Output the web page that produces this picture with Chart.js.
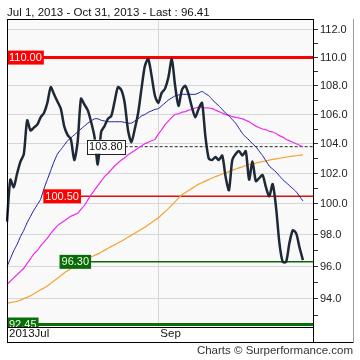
<!DOCTYPE html>
<html><head><meta charset="utf-8">
<script src="https://cdn.jsdelivr.net/npm/chart.js@4/dist/chart.umd.min.js"></script>
<style>html,body{margin:0;padding:0;background:#fff;}</style>
</head><body>
<canvas id="c" width="360" height="360"></canvas>
<script>
const titleText = 'Jul 1, 2013 - Oct 31, 2013 - Last : 96.41';
const footerText = 'Charts \u00A9 Surperformance.com';

// trading days Jul 1 2013 .. Nov 5 2013 (weekdays)
const categories = [];
(function(){
  const d = new Date(2013, 6, 1), end = new Date(2013, 10, 5);
  while (d <= end) { const w = d.getDay(); if (w !== 0 && w !== 6) categories.push(d.toISOString().slice(0,10)); d.setDate(d.getDate()+1); }
})();

const closePrice = [98.85,101.6,101.1,102.0,102.8,103.3,105.6,104.9,105.1,105.3,
105.8,106.1,106.8,107.9,107.4,106.9,106.4,105.2,104.6,104.3,
102.9,104.1,107.1,106.7,106.3,105.5,104.5,102.6,104.8,105.2,
105.7,105.9,106.9,107.9,107.7,106.8,104.9,104.1,105.0,106.1,
107.8,109.4,109.9,108.7,107.3,106.8,107.5,107.8,108.6,109.9,
108.0,106.6,107.7,108.0,107.4,106.5,105.8,106.4,106.8,104.5,
103.0,102.9,103.1,102.9,103.2,101.8,100.9,102.9,103.3,103.5,
103.2,103.5,101.6,102.8,101.5,101.7,101.9,101.1,100.5,101.3,
99.8,97.5,96.3,96.3,97.5,98.3,98.1,97.2,96.41];

const maShort = [96.0,96.5,97.0,97.4,97.9,98.3,98.8,99.2,99.6,99.95,
100.3,101.0,101.6,102.2,102.8,103.3,103.6,103.9,104.2,104.4,
104.6,104.8,105.0,105.2,105.4,105.55,105.7,105.7,105.6,105.55,
105.5,105.5,105.5,105.5,105.5,105.45,105.4,105.4,105.55,105.7,
105.9,106.0,106.15,106.25,106.35,106.4,106.6,106.8,107.0,107.15,
107.3,107.35,107.4,107.4,107.4,107.4,107.4,107.5,107.6,107.45,
107.3,107.05,106.8,106.6,106.35,106.1,105.9,105.65,105.4,105.05,
104.7,104.45,104.25,104.0,103.8,103.5,103.2,102.85,102.5,102.3,
102.1,101.85,101.6,101.4,101.2,101.0,100.8,100.5,100.2];

const maMid = [94.9,95.1,95.3,95.5,95.7,95.9,96.2,96.5,96.8,97.0,
97.3,97.55,97.8,98.1,98.35,98.6,98.75,98.9,99.05,99.2,
99.3,99.4,99.65,99.9,100.25,100.6,100.9,101.2,101.5,101.8,
102.0,102.25,102.5,102.7,102.9,103.05,103.25,103.4,103.55,103.7,
103.85,104.0,104.1,104.2,104.3,104.65,104.95,105.3,105.55,105.8,
106.0,106.05,106.15,106.2,106.3,106.35,106.45,106.5,106.5,106.45,
106.45,106.4,106.3,106.2,106.1,106.0,105.95,105.85,105.8,105.75,
105.7,105.6,105.5,105.35,105.2,105.1,105.0,104.95,104.85,104.8,
104.7,104.55,104.45,104.3,104.2,104.1,104.0,103.9,103.8];

const maLong = [93.75,93.78,93.82,93.85,93.93,94.02,94.1,94.2,94.32,94.44,
94.56,94.68,94.8,94.96,95.12,95.28,95.44,95.6,95.74,95.88,
96.02,96.16,96.3,96.4,96.5,96.6,96.7,96.8,96.91,97.03,
97.14,97.26,97.37,97.49,97.6,97.73,97.86,97.99,98.11,98.24,
98.37,98.5,98.65,98.8,98.95,99.1,99.3,99.5,99.7,99.92,
100.15,100.38,100.6,100.74,100.88,101.02,101.16,101.3,101.4,101.5,
101.6,101.7,101.8,101.88,101.97,102.05,102.13,102.22,102.3,102.38,
102.45,102.53,102.6,102.65,102.7,102.75,102.8,102.85,102.9,102.94,
102.98,103.02,103.06,103.1,103.13,103.16,103.19,103.22,103.25];

const levelValues = [110.00, 103.80, 100.50, 96.30, 92.45];
const levelLabels = ['110.00', '103.80', '100.50', '96.30', '92.45'];
const levelStarts = [0, 35, 22, 25, 0];
const levelColors = ['#ff0000', '#222222', '#e01010', '#0a6a0a', '#0a6e0a'];
const levelBoxFill = ['#ff0000', '#ffffff', '#ff0000', '#0a6a0a', '#0a6e0a'];
const levelTextColor = ['#ffffff', '#111111', '#ffffff', '#e8ffe0', '#e8ffe0'];
const levelWidths = [3, 1, 1.5, 1.5, 3];
const levelDash = [[], [3, 2], [], [], []];

const yTickValues = [93,94,95,96,97,98,99,100,101,102,103,104,105,106,107,108,109,110,111,112];
const xTickIndex = [0, 45];
const xTickLabels = ['2013Jul', 'Sep'];

const FONT = '"Liberation Sans", Arial, sans-serif';

const datasets = [
  {data: closePrice, borderColor: '#1e2836', borderWidth: 2.5, tension: 0.25},
  {data: maShort, borderColor: '#1a1aa8', borderWidth: 1, tension: 0.2},
  {data: maMid, borderColor: '#ec2cec', borderWidth: 1.2, tension: 0.2},
  {data: maLong, borderColor: '#f2a531', borderWidth: 1.2, tension: 0.2}
];
levelValues.forEach((v, k) => {
  datasets.push({
    data: categories.map((_, i) => i >= levelStarts[k] ? v : null),
    borderColor: levelColors[k], borderWidth: levelWidths[k], borderDash: levelDash[k], tension: 0
  });
});
datasets.forEach(d => { d.pointRadius = 0; d.fill = false; d.spanGaps = false; });

const bgPlugin = {
  id: 'bg',
  beforeDraw(chart) {
    const {ctx, chartArea: a} = chart;
    ctx.save(); ctx.fillStyle = '#f9f9f9';
    ctx.fillRect(a.left, a.top, a.right - a.left, a.bottom - a.top);
    ctx.restore();
  }
};

const boxPlugin = {
  id: 'boxes',
  afterDatasetsDraw(chart) {
    const {ctx, chartArea: a, scales: {x, y}} = chart;
    ctx.save();
    ctx.beginPath(); ctx.rect(a.left, a.top, a.right - a.left, a.bottom - a.top); ctx.clip();
    ctx.font = '11px ' + FONT;
    ctx.textBaseline = 'middle';
    levelValues.forEach((v, k) => {
      const py = y.getPixelForValue(v);
      const xs = x.getPixelForValue(levelStarts[k]);
      const w = ctx.measureText(levelLabels[k]).width + 4, h = 14;
      const x0 = Math.max(a.left, xs - w);
      ctx.fillStyle = levelBoxFill[k];
      ctx.fillRect(x0, py - h / 2, w, h);
      if (k === 1) { ctx.strokeStyle = '#222'; ctx.lineWidth = 1; ctx.strokeRect(Math.round(x0) + 0.5, Math.round(py - h / 2) + 0.5, Math.round(w), h); }
      ctx.fillStyle = levelTextColor[k];
      ctx.fillText(levelLabels[k], x0 + 2, py + 0.5);
    });
    ctx.restore();
  },
  afterDraw(chart) {
    const {ctx, chartArea: a} = chart;
    ctx.save();
    ctx.strokeStyle = '#000'; ctx.lineWidth = 1;
    ctx.beginPath();
    ctx.moveTo(a.left + 0.5, a.top + 0.5); ctx.lineTo(a.right, a.top + 0.5);
    ctx.moveTo(a.left + 0.5, a.top); ctx.lineTo(a.left + 0.5, 342.5);
    ctx.moveTo(a.left, 342.5); ctx.lineTo(353.5, 342.5);
    ctx.moveTo(a.right + 0.5, a.bottom); ctx.lineTo(a.right + 0.5, 342.5);
    ctx.stroke();
    ctx.strokeStyle = '#9a9a9a';
    ctx.beginPath(); ctx.moveTo(353.5, a.top); ctx.lineTo(353.5, 342.5); ctx.stroke();
    ctx.restore();
  }
};

new Chart(document.getElementById('c'), {
  type: 'line',
  data: {labels: categories, datasets},
  plugins: [bgPlugin, boxPlugin],
  options: {
    responsive: false, animation: false, devicePixelRatio: 1,
    layout: {padding: {left: 7, right: 7, top: 0, bottom: 0}},
    plugins: {
      legend: {display: false}, tooltip: {enabled: false},
      title: {display: true, text: titleText, align: 'start', color: '#111',
        font: {family: FONT, size: 11.5, weight: 'normal', lineHeight: 1}, padding: {top: 7, bottom: 0.5}},
      subtitle: {display: true, text: footerText, position: 'bottom', align: 'end', color: '#333',
        font: {family: FONT, size: 11.5, weight: 'normal', lineHeight: 1}, padding: {top: 3.5, bottom: 3}}
    },
    scales: {
      x: {
        type: 'category', offset: false,
        grid: {color: '#d6d6d6', drawTicks: false},
        border: {color: '#000'},
        afterBuildTicks: s => { s.ticks = xTickIndex.map(v => ({value: v})); },
        afterFit: s => { s.height = 15; },
        ticks: {autoSkip: false, maxRotation: 0, align: 'start', padding: 0, labelOffset: 2,
          color: '#111', font: {family: FONT, size: 11.5},
          callback: v => xTickLabels[xTickIndex.indexOf(v)]}
      },
      y: {
        type: 'logarithmic', position: 'right', min: 92.3, max: 112.8,
        afterBuildTicks: s => { s.ticks = yTickValues.map(v => ({value: v})); },
        afterFit: s => { s.width = 40; },
        border: {color: '#000'},
        grid: {tickLength: 5, tickColor: '#333',
          color: c => (c.tick && c.tick.value % 2 === 0 && c.tick.value !== 110) ? '#d6d6d6' : 'rgba(0,0,0,0)'},
        ticks: {autoSkip: false, padding: 2, color: '#222', font: {family: FONT, size: 11},
          callback: v => (v % 2 === 0 ? Number(v).toFixed(1) : '')}
      }
    }
  }
});
</script>
</body></html>
